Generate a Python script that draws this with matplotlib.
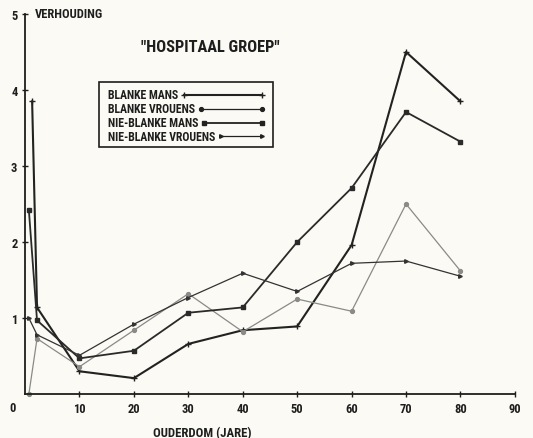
import matplotlib.pyplot as plt

plt.rcParams['font.family'] = ['Roboto Condensed', 'Roboto', 'DejaVu Sans']

# ratio per age group (ages of the first two groups are approximate positions)
ages_bm = [1.3, 2.2, 10, 20, 30, 40, 50, 60, 70, 80]
blanke_mans = [3.85, 1.14, 0.30, 0.21, 0.66, 0.84, 0.89, 1.96, 4.50, 3.85]

ages_bv = [0.7, 2.2, 10, 20, 30, 40, 50, 60, 70, 80]
blanke_vrouens = [0.0, 0.73, 0.36, 0.84, 1.32, 0.82, 1.25, 1.09, 2.50, 1.62]

ages_nbm = [0.7, 2.2, 10, 20, 30, 40, 50, 60, 70, 80]
nie_blanke_mans = [2.42, 0.97, 0.47, 0.57, 1.07, 1.14, 2.00, 2.71, 3.71, 3.32]

ages_nbv = [0.7, 2.2, 10, 20, 30, 40, 50, 60, 70, 80]
nie_blanke_vrouens = [1.00, 0.78, 0.51, 0.92, 1.27, 1.59, 1.35, 1.72, 1.75, 1.55]

labels = ['BLANKE MANS', 'BLANKE VROUENS', 'NIE-BLANKE MANS', 'NIE-BLANKE VROUENS']
x_ticks = [10, 20, 30, 40, 50, 60, 70, 80, 90]
y_ticks = [1, 2, 3, 4, 5]

ink = '#1e1e1e'
bg = '#fbfaf4'

fig = plt.figure(figsize=(5.33, 4.39), dpi=100, facecolor=bg)
ax = fig.add_axes([0.047, 0.1, 0.919, 0.866])
ax.set_facecolor(bg)

styles = [
    dict(color='#222222', lw=1.5, marker='+', ms=4, mew=1.0),
    dict(color='#8a8a86', lw=0.9, marker='o', ms=2.8),
    dict(color='#2a2a2a', lw=1.3, marker='s', ms=3.5),
    dict(color='#333333', lw=0.9, marker='>', ms=2.6),
]
series = [(ages_bm, blanke_mans), (ages_bv, blanke_vrouens),
          (ages_nbm, nie_blanke_mans), (ages_nbv, nie_blanke_vrouens)]
for (xs, ys), st in zip(series, styles):
    ax.plot(xs, ys, clip_on=False, **st)

ax.set_xlim(0, 90)
ax.set_ylim(0, 5)
for s in ['top', 'right']:
    ax.spines[s].set_visible(False)
for s in ['left', 'bottom']:
    ax.spines[s].set_color(ink)
    ax.spines[s].set_linewidth(1.3)

ax.set_xticks(x_ticks)
ax.set_yticks(y_ticks)
ax.tick_params(direction='inout', length=5, width=1, color=ink,
               labelsize=9, labelcolor=ink, pad=3)
for lab in ax.get_xticklabels() + ax.get_yticklabels():
    lab.set_fontweight('bold')

ax.text(-1.8, -0.18, '0', ha='right', va='center', fontsize=9,
        fontweight='bold', color=ink)
ax.text(1.8, 5.0, 'VERHOUDING', ha='left', va='center', fontsize=9,
        fontweight='bold', color=ink)
ax.text(32.5, -0.5, 'OUDERDOM (JARE)', ha='center', va='center', fontsize=9.2,
        fontweight='bold', color=ink)
ax.text(34.0, 4.57, '"HOSPITAAL GROEP"', ha='center', va='center', fontsize=11.8,
        fontweight='bold', color=ink)

# legend box with sample lines running up to a common right edge
box = plt.Rectangle((13.6, 3.25), 32.0, 0.86, fill=False, ec=ink, lw=1.2,
                    clip_on=False)
ax.add_patch(box)
leg_y = [3.94, 3.75, 3.57, 3.39]
fig.canvas.draw()
renderer = fig.canvas.get_renderer()
for lab, yy, st in zip(labels, leg_y, styles):
    t = ax.text(15.3, yy, lab, ha='left', va='center', fontsize=8.5,
                fontweight='bold', color=ink)
    bb = t.get_window_extent(renderer)
    xe = ax.transData.inverted().transform((bb.x1, bb.y0))[0]
    kw = dict(st)
    kw['color'] = '#222222'
    ax.plot([xe + 1.0, 43.6], [yy, yy], clip_on=False, **kw)

fig.savefig('out.png', dpi=100, facecolor=bg)
